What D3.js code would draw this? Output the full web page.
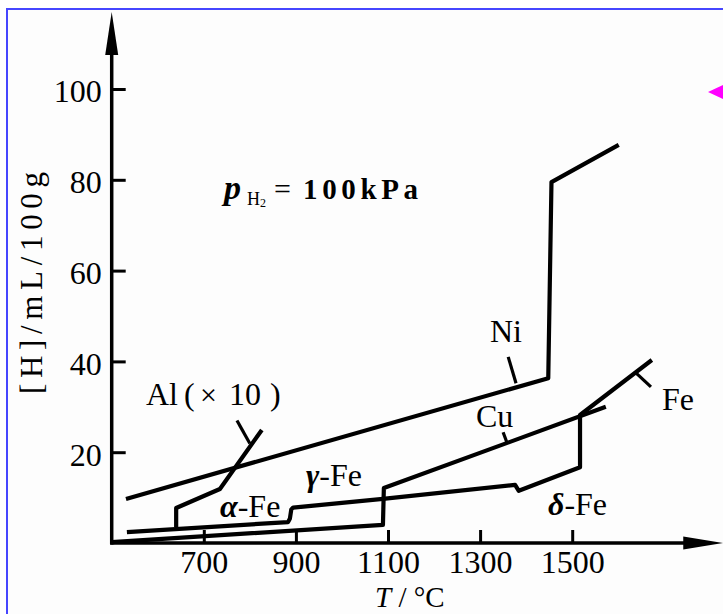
<!DOCTYPE html>
<html>
<head>
<meta charset="utf-8">
<script src="https://cdn.jsdelivr.net/npm/d3@7"></script>
<style>
  html, body { margin: 0; padding: 0; background: #ffffff; }
  svg { display: block; }
  text { font-family: "Liberation Serif", "Times New Roman", serif; fill: #000; }
</style>
</head>
<body>
<svg id="chart" width="723" height="614"></svg>
<script>
// ---------- data (T in °C, [H] in mL/100g) ----------
const T_TICKS = [700, 900, 1100, 1300, 1500];
const H_TICKS = [20, 40, 60, 80, 100];
const T_RANGE = [500, 1828];
const H_RANGE = [0, 104];

const ni = [[531, 9.7], [1448, 36.3], [1455, 79.5], [1601, 87.7]];
const cu = [[500, 0.2], [1089, 4.0], [1091, 12.1], [1573, 30.0]];
const fe = [[533, 2.4], [883, 4.6], [887, 5.4], [890, 7.4], [894, 7.8], [1089, 9.7],
            [1376, 12.8], [1384, 11.5], [1517, 16.7], [1517, 28.2], [1673, 40.3]];
const al = [[640, 3.5], [640, 7.7], [735, 11.9], [826, 24.9]];

const leaders = [
  [[1361, 41.0], [1378, 35.2]],   // Ni
  [[1350, 24.4], [1358, 22.2]],   // Cu
  [[1636, 37.7], [1671, 34.4]],   // Fe
  [[772, 27.0], [800, 21.9]]      // Al
];

// ---------- scales ----------
const x = d3.scaleLinear().domain([500, 1800]).range([111.7, 111.7 + 1300 * 0.4605]);
const y = d3.scaleLinear().domain([0, 100]).range([543, 89]);

const svg = d3.select("#chart");

// frame
svg.append("rect").attr("x", 7).attr("y", 9).attr("width", 730).attr("height", 620)
  .attr("fill", "#fdfdfd").attr("stroke", "#4646ff").attr("stroke-width", 2);

// pink marker at right
svg.append("path").attr("d", "M708,92 L723,85 L723,99 Z").attr("fill", "#ff00ff");

const g = svg.append("g");

// axes lines
const x0 = x(T_RANGE[0]), y0 = y(H_RANGE[0]);
const xEnd = x(T_RANGE[1]);
const yTop = 12;
g.append("line").attr("x1", x0).attr("y1", y0 + 1.5).attr("x2", x0).attr("y2", yTop + 30)
  .attr("stroke", "#000").attr("stroke-width", 3.5);
g.append("line").attr("x1", x0 - 1.5).attr("y1", y0).attr("x2", xEnd - 30).attr("y2", y0)
  .attr("stroke", "#000").attr("stroke-width", 3.5);
// arrow heads
g.append("path").attr("d", `M${x0},${yTop} L${x0 - 6.5},${yTop + 43} L${x0 + 6.5},${yTop + 43} Z`).attr("fill", "#000");
g.append("path").attr("d", `M${xEnd},${y0} L${xEnd - 40},${y0 - 6.5} L${xEnd - 40},${y0 + 6.5} Z`).attr("fill", "#000");

// ticks via d3 axes
const yAxis = g.append("g").attr("transform", `translate(${x0},0)`)
  .call(d3.axisLeft(y).tickValues(H_TICKS).tickSize(-14).tickPadding(10).tickFormat(d3.format("d")));
const xAxis = g.append("g").attr("transform", `translate(0,${y0})`)
  .call(d3.axisBottom(x).tickValues(T_TICKS).tickSize(-13).tickPadding(7).tickFormat(d3.format("d")));
[yAxis, xAxis].forEach(a => {
  a.select(".domain").remove();
  a.selectAll(".tick line").attr("stroke", "#000").attr("stroke-width", 3);
  a.selectAll(".tick text").attr("font-size", 32).attr("fill", "#000")
    .attr("font-family", "'Liberation Serif', 'Times New Roman', serif");
});
yAxis.selectAll(".tick text").attr("dy", "0.4em");

// curves
const line = d3.line().x(d => x(d[0])).y(d => y(d[1]));
[ni, cu, fe, al].forEach(s => {
  g.append("path").attr("d", line(s)).attr("fill", "none")
    .attr("stroke", "#000").attr("stroke-width", 4.2)
    .attr("stroke-linejoin", "round").attr("stroke-linecap", "butt");
});
leaders.forEach(s => {
  g.append("path").attr("d", line(s)).attr("fill", "none")
    .attr("stroke", "#000").attr("stroke-width", 3.2);
});

// labels
function label(txt, px, py, opts = {}) {
  return g.append("text").attr("x", px).attr("y", py)
    .attr("font-size", opts.size || 32).text(txt);
}
label("Ni", 490, 342);
label("Cu", 476, 427);
label("Fe", 662, 410);
const alT = g.append("text").attr("y", 405).attr("font-size", 32);
alT.append("tspan").attr("x", 146).text("Al");
alT.append("tspan").attr("x", 184).text("(");
alT.append("tspan").attr("x", 200).attr("font-size", 30).text("×");
alT.append("tspan").attr("x", 229).text("10");
alT.append("tspan").attr("x", 270).text(")");

function phaseLabel(greek, px, py) {
  const t = g.append("text").attr("x", px).attr("y", py).attr("font-size", 32);
  t.append("tspan").attr("font-weight", "bold").attr("font-style", "italic").text(greek);
  t.append("tspan").text("-Fe");
}
phaseLabel("α", 220, 517);
phaseLabel("γ", 306, 486);
phaseLabel("δ", 548, 515);

// pressure label
const pt = g.append("text").attr("y", 199);
pt.append("tspan").attr("x", 224).attr("font-size", 34).attr("font-weight", "bold").attr("font-style", "italic").text("p");
pt.append("tspan").attr("x", 247).attr("y", 205).attr("font-size", 18).text("H");
pt.append("tspan").attr("x", 260).attr("y", 207).attr("font-size", 12).text("2");
pt.append("tspan").attr("x", 274).attr("y", 199).attr("font-size", 30).text("=");
g.append("text").attr("x", 303).attr("y", 199).attr("font-size", 29).attr("font-weight", "bold")
  .attr("textLength", 115).attr("lengthAdjust", "spacing").text("100kPa");

// axis titles
g.append("text").attr("transform", "translate(42,283) rotate(-90)")
  .attr("text-anchor", "middle").attr("font-size", 31)
  .attr("textLength", 222).attr("lengthAdjust", "spacing").text("[H]/mL/100g");
const xt = g.append("text").attr("x", 375).attr("y", 607).attr("font-size", 29);
xt.append("tspan").attr("font-style", "italic").text("T");
xt.append("tspan").text(" / °C");
</script>
</body>
</html>
